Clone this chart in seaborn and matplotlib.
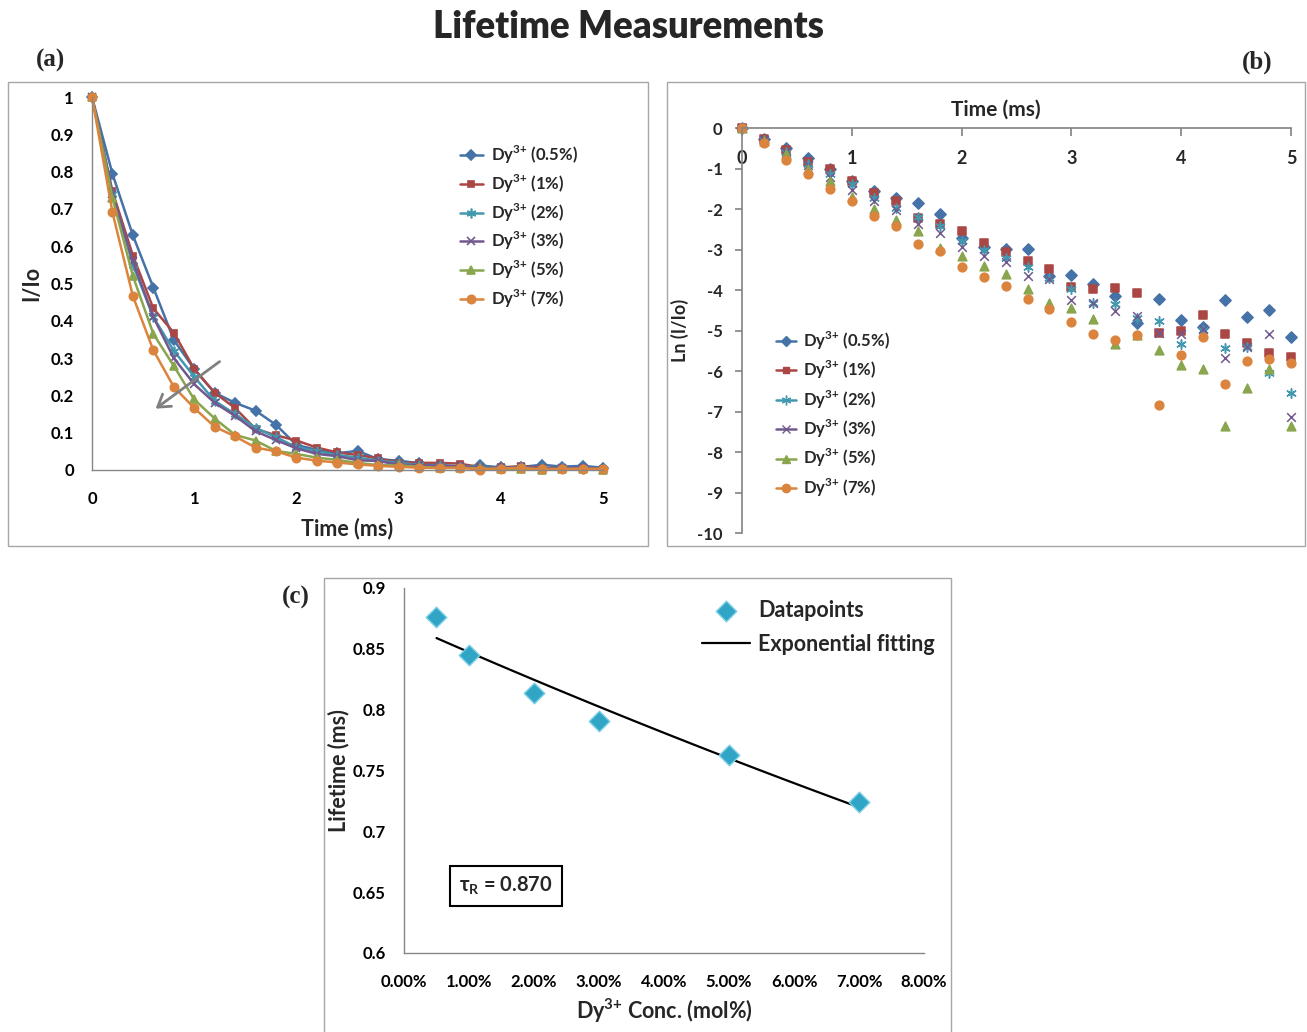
import numpy as np
import matplotlib
matplotlib.use("Agg")
import matplotlib.pyplot as plt
from matplotlib.lines import Line2D
from matplotlib.patches import Rectangle
from matplotlib.ticker import FuncFormatter
import seaborn as sns

sns.set_theme(style="white")
plt.rcParams['font.family'] = ['Lato', 'DejaVu Sans']
plt.rcParams['font.weight'] = 'bold'
plt.rcParams['axes.labelweight'] = 'bold'
plt.rcParams['axes.unicode_minus'] = False
plt.rcParams['mathtext.fontset'] = 'custom'
plt.rcParams['mathtext.rm'] = 'Lato:bold'

# ---- data ----
time_ms = [0, 0.2, 0.4, 0.6, 0.8, 1.0, 1.2, 1.4, 1.6, 1.8, 2.0, 2.2, 2.4,
           2.6, 2.8, 3.0, 3.2, 3.4, 3.6, 3.8, 4.0, 4.2, 4.4, 4.6, 4.8, 5.0]
DY = "Dy$^{\\mathregular{3{+}}}$"
series_labels = [DY + " (0.5%)", DY + " (1%)", DY + " (2%)",
                 DY + " (3%)", DY + " (5%)", DY + " (7%)"]

# (a) normalised intensity I/Io
I_05 = [1, 0.794, 0.629, 0.489, 0.349, 0.27, 0.207, 0.18, 0.159, 0.121, 0.067, 0.054, 0.045,
        0.051, 0.029, 0.025, 0.018, 0.013, 0.009, 0.012, 0.007, 0.008, 0.014, 0.009, 0.011, 0.006]
I_1 = [1, 0.747, 0.575, 0.433, 0.368, 0.271, 0.207, 0.166, 0.11, 0.093, 0.079, 0.06, 0.047,
       0.040, 0.031, 0.02, 0.019, 0.019, 0.017, 0.007, 0.007, 0.01, 0.006, 0.005, 0.004, 0.003]
I_2 = [1, 0.74, 0.55, 0.41, 0.32, 0.25, 0.185, 0.15, 0.113, 0.088, 0.061, 0.05, 0.04,
       0.033, 0.025, 0.019, 0.013, 0.013, 0.009, 0.009, 0.005, 0.007, 0.004, 0.0045, 0.0024, 0.0015]
I_3 = [1, 0.74, 0.56, 0.41, 0.30, 0.23, 0.18, 0.145, 0.104, 0.08, 0.058, 0.043, 0.037,
       0.026, 0.024, 0.014, 0.013, 0.011, 0.0096, 0.0063, 0.0062, 0.007, 0.0034, 0.0045, 0.0062, 0.0008]
I_5 = [1, 0.73, 0.52, 0.365, 0.279, 0.189, 0.138, 0.094, 0.079, 0.051, 0.043, 0.033, 0.027,
       0.019, 0.013, 0.012, 0.009, 0.0048, 0.006, 0.0042, 0.0029, 0.0026, 0.0006, 0.0016, 0.0026, 0.0006]
I_7 = [1, 0.691, 0.466, 0.321, 0.223, 0.166, 0.116, 0.09, 0.06, 0.05, 0.033, 0.025, 0.020,
       0.015, 0.011, 0.0084, 0.0062, 0.0054, 0.0061, 0.0011, 0.0037, 0.0057, 0.0018, 0.0032, 0.0033, 0.0031]

# (b) Ln(I/Io)
ln_05 = [0, -0.26, -0.48, -0.73, -1.0, -1.3, -1.56, -1.72, -1.84, -2.12, -2.71, -2.93, -2.99,
         -2.99, -3.65, -3.63, -3.85, -4.14, -4.82, -4.22, -4.74, -4.90, -4.24, -4.66, -4.50, -5.16]
ln_1 = [0, -0.28, -0.55, -0.85, -1.02, -1.31, -1.6, -1.81, -2.21, -2.37, -2.55, -2.85, -3.07,
        -3.28, -3.47, -3.92, -3.98, -3.94, -4.07, -5.05, -5.00, -4.61, -5.08, -5.30, -5.55, -5.66]
ln_2 = [0, -0.3, -0.6, -0.88, -1.14, -1.39, -1.73, -1.97, -2.2, -2.43, -2.8, -3.0, -3.22,
        -3.42, -3.70, -3.98, -4.31, -4.35, -4.69, -4.76, -5.33, -4.99, -5.44, -5.40, -6.04, -6.53]
ln_3 = [0, -0.3, -0.58, -0.9, -1.2, -1.54, -1.79, -2.03, -2.36, -2.6, -2.93, -3.15, -3.3,
        -3.65, -3.73, -4.24, -4.31, -4.51, -4.64, -5.07, -5.09, -4.96, -5.69, -5.4, -5.09, -7.13]
ln_5 = [0, -0.32, -0.63, -1.02, -1.31, -1.69, -1.99, -2.28, -2.53, -2.97, -3.15, -3.41, -3.61,
        -3.98, -4.31, -4.45, -4.72, -5.34, -5.1, -5.47, -5.84, -5.96, -7.35, -6.43, -5.96, -7.35]
ln_7 = [0, -0.38, -0.78, -1.14, -1.51, -1.81, -2.17, -2.43, -2.86, -3.04, -3.42, -3.67, -3.89,
        -4.21, -4.47, -4.78, -5.09, -5.23, -5.10, -6.85, -5.60, -5.17, -6.31, -5.75, -5.70, -5.79]

# (c) lifetime vs concentration
conc_pct = [0.5, 1, 2, 3, 5, 7]
lifetime_ms = [0.876, 0.845, 0.814, 0.791, 0.763, 0.724]

intensity = [I_05, I_1, I_2, I_3, I_5, I_7]
log_intensity = [ln_05, ln_1, ln_2, ln_3, ln_5, ln_7]
colors = ["#4572A7", "#AA4643", "#4198AF", "#71588F", "#89A54E", "#DB843D"]
markers = ["D", "s", (6, 2, 0), "x", "^", "o"]
msizes = [5, 5, 7, 6, 6, 6]

axis_grey = "#868686"

fig = plt.figure(figsize=(13.07, 10.32), dpi=100)

# panel borders (excel chart areas)
for x0, y0, w, h in [(0.0061, 0.4709, 0.4897, 0.4496),
                     (0.5103, 0.4709, 0.4881, 0.4496),
                     (0.2479, -0.01, 0.4797, 0.4499)]:
    fig.add_artist(Rectangle((x0, y0), w, h, transform=fig.transFigure,
                             fill=False, edgecolor="#A6A6A6", linewidth=1))

fig.text(0.4805, 0.9738, "Lifetime Measurements", ha="center", va="center",
         fontsize=26.3, weight="heavy")
for txt, x, y in [("(a)", 0.0383, 0.9419), ("(b)", 0.9617, 0.94), ("(c)", 0.2265, 0.4215)]:
    fig.text(x, y, txt, ha="center", va="center", fontsize=18, weight="bold",
             family=["Liberation Serif"])


def style_axis(ax):
    for side in ["top", "right"]:
        ax.spines[side].set_visible(False)
    for side in ["left", "bottom"]:
        ax.spines[side].set_color(axis_grey)
        ax.spines[side].set_linewidth(1)
    ax.tick_params(direction="out", length=5, color=axis_grey, width=1,
                   labelsize=12, labelcolor="black")
    ax.tick_params(axis="x", pad=10)
    ax.tick_params(axis="y", pad=8)


# ---------------- (a) ----------------
ax_a = fig.add_axes([0.0704, 0.5446, 0.391, 0.3614])
for vals, lab, c, m, ms in zip(intensity, series_labels, colors, markers, msizes):
    sns.lineplot(x=time_ms, y=vals, ax=ax_a, color=c, marker=m, markersize=ms,
                 markeredgecolor=c, markeredgewidth=1.2, linewidth=1.8,
                 label=lab, clip_on=False)
ax_a.set_xlim(0, 5)
ax_a.set_ylim(0, 1)
ax_a.set_xticks([0, 1, 2, 3, 4, 5])
ax_a.set_yticks(np.arange(0, 1.01, 0.1))
ax_a.yaxis.set_major_formatter(FuncFormatter(lambda v, p: f"{v:g}"))
style_axis(ax_a)
ax_a.set_xlabel("Time (ms)", fontsize=15.5, labelpad=8)
ax_a.set_ylabel("I/Io", fontsize=15.5, labelpad=6)
ax_a.annotate("", xy=(0.6, 0.16), xytext=(1.27, 0.295),
              arrowprops=dict(arrowstyle="->,head_length=0.7,head_width=0.45",
                              color="#808080", lw=2))
ax_a.legend(loc="upper left", bbox_to_anchor=(0.69, 0.915), frameon=False,
            fontsize=12, labelspacing=0.38, handlelength=1.4, handletextpad=0.5)

# ---------------- (b) ----------------
ax_b = fig.add_axes([0.5677, 0.4835, 0.4201, 0.3924])
for vals, lab, c, m, ms in zip(log_intensity, series_labels, colors, markers, msizes):
    sns.scatterplot(x=time_ms, y=vals, ax=ax_b, color=c, marker=m, s=ms * 6.5,
                    edgecolor=c, linewidth=1.1, clip_on=False, legend=False)
ax_b.set_xlim(0, 5)
ax_b.set_ylim(-10, 0)
ax_b.set_yticks(range(-10, 1))
for side in ["bottom", "right"]:
    ax_b.spines[side].set_visible(False)
for side in ["top", "left"]:
    ax_b.spines[side].set_color(axis_grey)
ax_b.xaxis.set_ticks_position("top")
ax_b.xaxis.set_label_position("top")
ax_b.tick_params(axis="x", direction="in", length=6, color=axis_grey,
                 labelsize=13, pad=-28)
ax_b.tick_params(axis="y", direction="out", length=5, color=axis_grey,
                 labelsize=12, left=True, pad=9)
ax_b.set_xlabel("Time (ms)", fontsize=15)
ax_b.xaxis.set_label_coords(0.462, 1.03)
ax_b.set_ylabel("Ln (I/Io)", fontsize=13, labelpad=6)
handles_b = [Line2D([0], [0], color=c, marker=m, markersize=ms, markeredgecolor=c,
                    linewidth=1.8) for c, m, ms in zip(colors, markers, msizes)]
ax_b.legend(handles_b, series_labels, loc="upper left", bbox_to_anchor=(0.035, 0.54),
            frameon=False, fontsize=12, labelspacing=0.42, handlelength=1.2,
            handletextpad=0.4)

# ---------------- (c) ----------------
ax_c = fig.add_axes([0.3091, 0.0766, 0.3979, 0.3537])
coef = np.polyfit(conc_pct, np.log(lifetime_ms), 1)
fit_x = np.linspace(min(conc_pct), max(conc_pct), 60)
fit_y = np.exp(np.polyval(coef, fit_x))
sns.lineplot(x=fit_x, y=fit_y, ax=ax_c, color="black", linewidth=1.6,
             label="Exponential fitting", legend=False)
sns.scatterplot(x=conc_pct, y=lifetime_ms, ax=ax_c, color="#31A5C6", marker="D",
                s=110, edgecolor="#7FD0E6", linewidth=1, label="Datapoints",
                legend=False, zorder=3)
ax_c.set_xlim(0, 8)
ax_c.set_ylim(0.6, 0.9)
ax_c.set_xticks(range(0, 9))
ax_c.set_yticks(np.arange(0.6, 0.901, 0.05))
ax_c.xaxis.set_major_formatter(FuncFormatter(lambda v, p: f"{v:.2f}%"))
ax_c.yaxis.set_major_formatter(FuncFormatter(lambda v, p: f"{v:g}"))
style_axis(ax_c)
ax_c.set_xlabel(DY + " Conc. (mol%)", fontsize=15.5, labelpad=5)
ax_c.set_ylabel("Lifetime (ms)", fontsize=15.5, labelpad=3)
h, l = ax_c.get_legend_handles_labels()
order = [l.index("Datapoints"), l.index("Exponential fitting")]
ax_c.legend([h[i] for i in order], [l[i] for i in order], loc="upper right",
            bbox_to_anchor=(1.058, 1.02), frameon=False, fontsize=15.5,
            labelspacing=0.6, handlelength=2.2, handletextpad=0.4)
ax_c.text(1.57, 0.655, "τ$_\\mathregular{R}$ = 0.870", ha="center", va="center",
          fontsize=14.5, weight="bold",
          bbox=dict(boxstyle="square,pad=0.45", facecolor="white",
                    edgecolor="black", linewidth=1.5))

fig.savefig("out.png", dpi=100)
